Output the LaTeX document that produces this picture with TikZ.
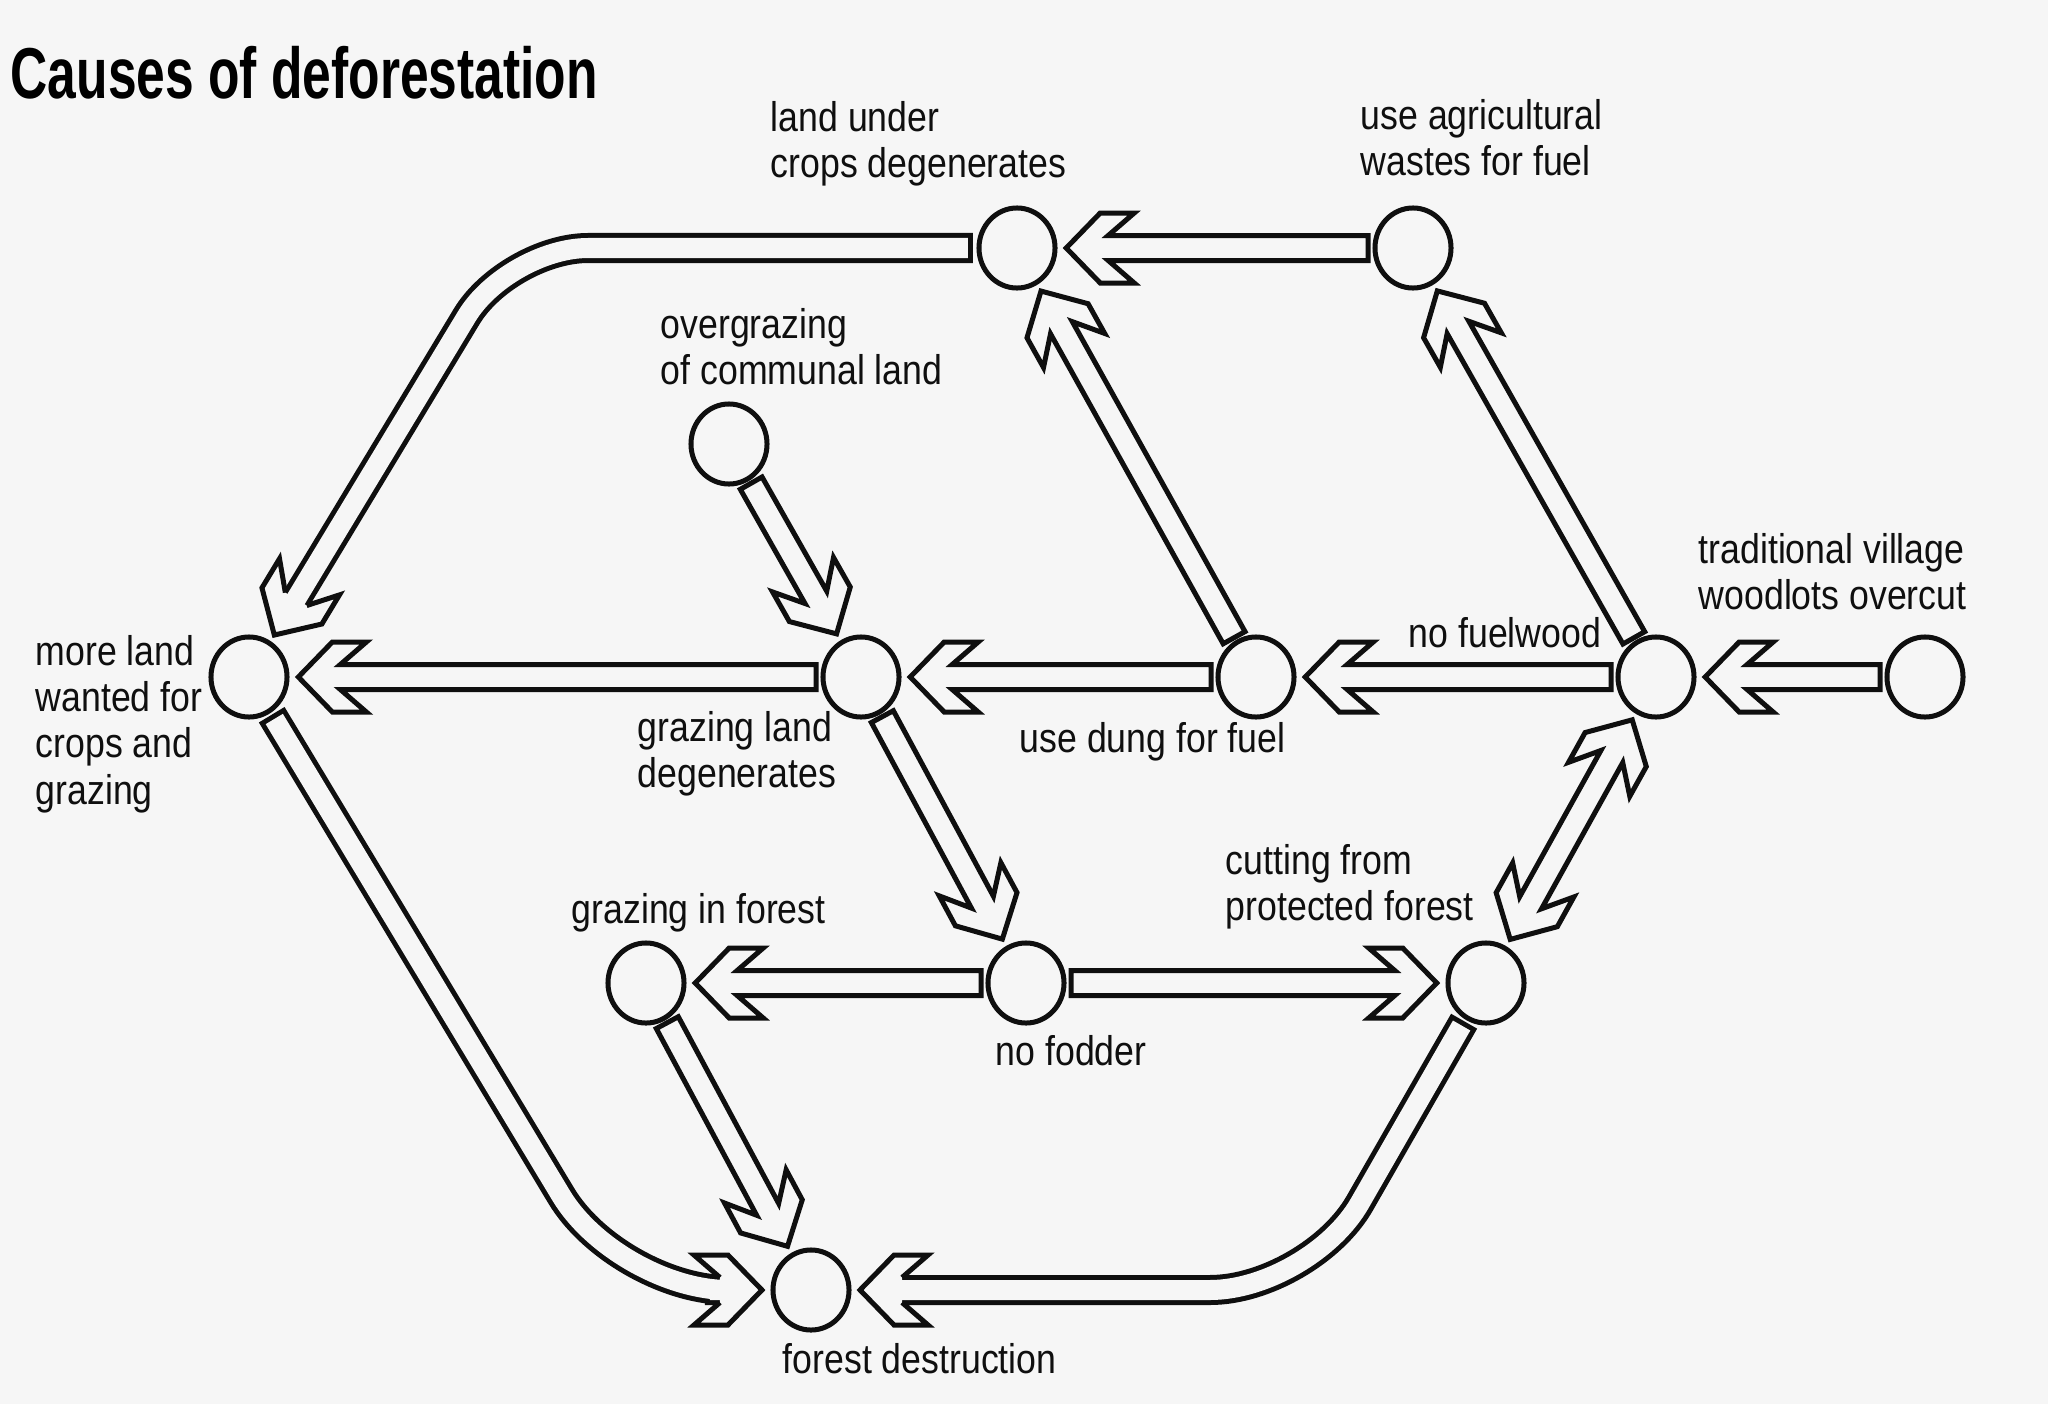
\documentclass[tikz,border=0pt]{standalone}
\usepackage{fontspec}
\setmainfont{Liberation Sans}[FakeStretch=0.86]
\newfontfamily\titlefont{Liberation Sans}[FakeStretch=0.715]
\usetikzlibrary{calc,shapes.geometric}
\definecolor{bg}{RGB}{246,246,246}
\definecolor{ink}{RGB}{15,15,15}
\newcommand\tl[1]{\begin{tabular}[t]{@{}l@{}}#1\end{tabular}}
\newcommand\sarrow[3][sarr]{%
  \pgfpointdiff{\pgfpointanchor{#2}{center}}{\pgfpointanchor{#3}{center}}%
  \pgfgetlastxy{\myDX}{\myDY}%
  \pgfmathsetmacro\myAng{atan2(\myDY,\myDX)}%
  \pgfmathsetmacro\myLen{veclen(\myDX,\myDY)/0.284528}%
  \path (#2.center) pic[rotate=\myAng]{#1=\myLen};%
}
\newcommand\headto[2]{%
  \pgfpointdiff{\pgfpointanchor{#2}{center}}{\pgfpointanchor{#1}{center}}%
  \pgfgetlastxy{\myDX}{\myDY}%
  \pgfmathsetmacro\myAng{atan2(\myDY,\myDX)}%
  \path ($(#1.center)!0.49cm!(#2)$) pic[rotate=\myAng]{ahead};%
}
\newcommand\carrow[4]{%
  \draw[shaft, rounded corners=#4] ($(#1.center)!0.59cm!(#2)$) -- (#2) -- ($(#3.center)!0.91cm!(#2)$);%
  \headto{#3}{#2}%
}
\tikzset{
  arrline/.style={draw=ink, fill=bg, line width=0.05cm, line join=miter},
  shaft/.style={draw=ink, double=bg, double distance=0.20cm, line width=0.05cm, line cap=rect},
  st/.style={ellipse, draw=ink, fill=bg, line width=0.05cm, minimum width=0.76cm, minimum height=0.80cm, inner sep=0},
  lbl/.style={inner sep=0, anchor=base west, text=ink, font=\fontsize{11.8}{13.2}\selectfont},
  sarr/.pic={\filldraw[arrline] (45,12.5) -- ({#1-49-42},12.5) -- ({#1-49-68},35) -- ({#1-49-34},35) -- ({#1-49},0) -- ({#1-49-34},-35) -- ({#1-49-68},-35) -- ({#1-49-42},-12.5) -- (45,-12.5) -- cycle;},
  darr/.pic={\filldraw[arrline] (49,0) -- (83,35) -- (117,35) -- (91,12.5) -- ({#1-91},12.5) -- ({#1-117},35) -- ({#1-83},35) -- ({#1-49},0) -- ({#1-83},-35) -- ({#1-117},-35) -- ({#1-91},-12.5) -- (91,-12.5) -- (117,-35) -- (83,-35) -- cycle;},
  ahead/.pic={\filldraw[arrline] (-42,12.5) -- (-68,35) -- (-34,35) -- (0,0) -- (-34,-35) -- (-68,-35) -- (-42,-12.5);}
}
\begin{document}
\begin{tikzpicture}[x=0.01cm,y=-0.01cm]
\useasboundingbox (0,0) rectangle (2048,1418);
\fill[white] (0,0) rectangle (2048,1418);
\fill[bg] (0,0) rectangle (2048,1404);
% title
\node[inner sep=0, anchor=base west, text=black, font=\titlefont\bfseries\fontsize{20.5}{24}\selectfont] (title) at (10,98) {Causes of deforestation};
% states
\node[st] (c1) at (1017,248) {};
\node[st] (c2) at (1413,248) {};
\node[st] (c3) at (729,444) {};
\node[st] (c4) at (249,677) {};
\node[st] (c5) at (861,677) {};
\node[st] (c6) at (1256,677) {};
\node[st] (c7) at (1656,677) {};
\node[st] (c8) at (1925,677) {};
\node[st] (c9) at (646,983) {};
\node[st] (c10) at (1026,983) {};
\node[st] (c11) at (1486,983) {};
\node[st] (c12) at (811,1290) {};
\coordinate (K1) at (508,248);
\coordinate (K2) at (618,1290);
\coordinate (K3) at (1310,1290);
% labels
\node[lbl] (l1) at (770,131) {\tl{land under\\crops degenerates}};
\node[lbl] (l2) at (1360,129) {\tl{use agricultural\\wastes for fuel}};
\node[lbl] (l3) at (660,338) {\tl{overgrazing\\of communal land}};
\node[lbl] (l4) at (35,665) {\tl{more land\\wanted for\\crops and\\grazing}};
\node[lbl] (l5) at (637,741) {\tl{grazing land\\degenerates}};
\node[lbl] (l6) at (1019,752) {use dung for fuel};
\node[lbl] (l7) at (1408,647) {no fuelwood};
\node[lbl] (l8) at (1698,563) {\tl{traditional village\\woodlots overcut}};
\node[lbl] (l11) at (1225,874) {\tl{cutting from\\protected forest}};
\node[lbl] (l9) at (571,923) {grazing in forest};
\node[lbl] (l10) at (995,1065) {no fodder};
\node[lbl] (l12) at (782,1373) {forest destruction};
% straight arrows
\sarrow{c2}{c1}
\sarrow{c6}{c1}
\sarrow{c7}{c2}
\sarrow{c3}{c5}
\sarrow{c5}{c4}
\sarrow{c6}{c5}
\sarrow{c7}{c6}
\sarrow{c8}{c7}
\sarrow{c5}{c10}
\sarrow{c10}{c9}
\sarrow{c10}{c11}
\sarrow{c9}{c12}
\sarrow[darr]{c7}{c11}
% curved arrows
\carrow{c1}{K1}{c4}{0.8cm}
\carrow{c4}{K2}{c12}{1.1cm}
\carrow{c11}{K3}{c12}{1.0cm}
\end{tikzpicture}
\end{document}
